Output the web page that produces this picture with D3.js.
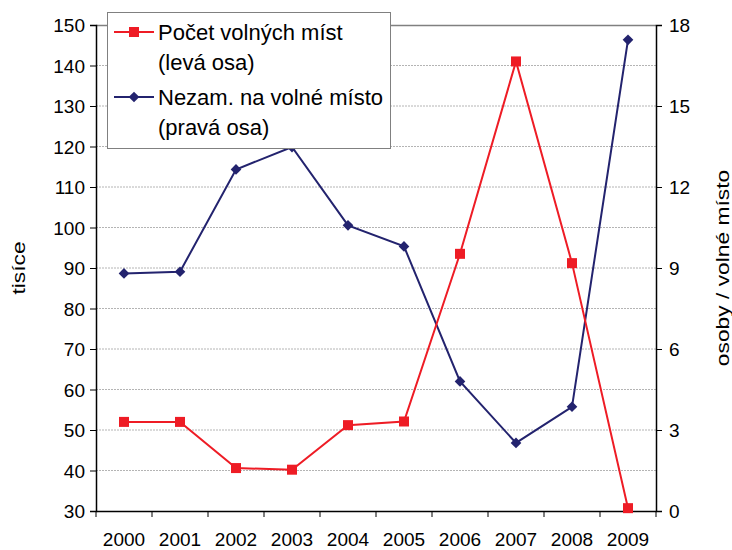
<!DOCTYPE html>
<html>
<head>
<meta charset="utf-8">
<script src="https://cdn.jsdelivr.net/npm/d3@7"></script>
<style>
  body { margin: 0; background: #fff; }
  text { font-family: "Liberation Sans", Arial, sans-serif; fill: #000; }
</style>
</head>
<body>
<div id="chart"></div>
<script>
// data
var years = ["2000","2001","2002","2003","2004","2005","2006","2007","2008","2009"];
var volnaMista = [52, 52, 40.6, 40.2, 51.2, 52.1, 93.5, 141, 91.2, 30.7];   // tisíce, left axis
var nezamNaMisto = [8.8, 8.86, 12.65, 13.48, 10.58, 9.8, 4.8, 2.52, 3.86, 17.45]; // right axis
var leftTicks = [30, 40, 50, 60, 70, 80, 90, 100, 110, 120, 130, 140, 150];
var rightTicks = [0, 3, 6, 9, 12, 15, 18];

var W = 732, H = 550;
var m = {top: 25, right: 76, bottom: 39, left: 96};
var pw = W - m.left - m.right, ph = H - m.top - m.bottom;

var red = "#ee1c25", navy = "#23236e";

var svg = d3.select("#chart").append("svg")
  .attr("width", W).attr("height", H);
var g = svg.append("g").attr("transform", "translate(" + m.left + "," + m.top + ")");

var x = d3.scaleBand().domain(years).range([0, pw]);
var yL = d3.scaleLinear().domain([30, 150]).range([ph, 0]);
var yR = d3.scaleLinear().domain([0, 18]).range([ph, 0]);

// gridlines
g.selectAll(".grid").data(leftTicks.slice(1, -1)).enter().append("line")
  .attr("x1", 0).attr("x2", pw)
  .attr("y1", function(d) { return yL(d); }).attr("y2", function(d) { return yL(d); })
  .style("stroke", "#b4b4b4").style("stroke-width", 1).style("stroke-dasharray", "2,1");

// top border
g.append("line").attr("x1", 0).attr("x2", pw).attr("y1", 0.5).attr("y2", 0.5)
  .style("stroke", "#808080").style("stroke-width", 1.5);

// axes
var axL = g.append("g").call(d3.axisLeft(yL).tickValues(leftTicks).tickSize(6).tickPadding(5).tickSizeOuter(6));
var axR = g.append("g").attr("transform", "translate(" + pw + ",0)")
  .call(d3.axisRight(yR).tickValues(rightTicks).tickSize(6).tickPadding(7).tickSizeOuter(6));
var axB = g.append("g").attr("transform", "translate(0," + ph + ")")
  .call(d3.axisBottom(x).tickSize(0).tickPadding(22));

[axL, axR, axB].forEach(function(a) {
  a.selectAll("text").style("font-size", "19px").style("font-family", "Liberation Sans, Arial, sans-serif");
  a.select(".domain").style("stroke", "#000").style("stroke-width", 1.5);
  a.selectAll(".tick line").style("stroke", "#000");
});
axL.selectAll("text").attr("dy", "0.36em");
axR.selectAll("text").attr("dy", "0.36em");

// x category boundary ticks
var bounds = years.map(function(d) { return x(d); }).concat([pw]);
g.selectAll(".xtick").data(bounds).enter().append("line")
  .attr("x1", function(d) { return d; }).attr("x2", function(d) { return d; })
  .attr("y1", ph).attr("y2", ph + 6)
  .style("stroke", "#000");

// axis titles
svg.append("text")
  .attr("transform", "translate(25," + (m.top + ph / 2) + ") rotate(-90) scale(1.2,1)")
  .attr("text-anchor", "middle").style("font-size", "19px").text("tisíce");
svg.append("text")
  .attr("transform", "translate(729," + (m.top + ph / 2) + ") rotate(-90) scale(1.2,1)")
  .attr("text-anchor", "middle").style("font-size", "19px").text("osoby / volné místo");

var cx = function(i) { return x(years[i]) + x.bandwidth() / 2; };

// navy series
var lineR = d3.line().x(function(d, i) { return cx(i); }).y(function(d) { return yR(d); });
g.append("path").datum(nezamNaMisto).attr("d", lineR)
  .style("fill", "none").style("stroke", navy).style("stroke-width", 2);
var diamond = d3.symbol().type(d3.symbolDiamond2).size(60);
g.selectAll(".dm").data(nezamNaMisto).enter().append("path")
  .attr("d", diamond)
  .attr("transform", function(d, i) { return "translate(" + cx(i) + "," + yR(d) + ") scale(1.1,1.1)"; })
  .style("fill", navy);

// red series
var lineL = d3.line().x(function(d, i) { return cx(i); }).y(function(d) { return yL(d); });
g.append("path").datum(volnaMista).attr("d", lineL)
  .style("fill", "none").style("stroke", red).style("stroke-width", 2);
g.selectAll(".sq").data(volnaMista).enter().append("rect")
  .attr("x", function(d, i) { return cx(i) - 5; })
  .attr("y", function(d) { return yL(d) - 5; })
  .attr("width", 10).attr("height", 10).style("fill", red);

// legend
var lg = svg.append("g").attr("transform", "translate(107,12)");
lg.append("rect").attr("x", 0.5).attr("y", 0.5).attr("width", 283).attr("height", 136)
  .style("fill", "#fff").style("stroke", "#808080").style("stroke-width", 1);
lg.append("line").attr("x1", 7).attr("x2", 47).attr("y1", 20).attr("y2", 20)
  .style("stroke", red).style("stroke-width", 2);
lg.append("rect").attr("x", 22).attr("y", 15).attr("width", 10).attr("height", 10).style("fill", red);
lg.append("line").attr("x1", 7).attr("x2", 47).attr("y1", 85).attr("y2", 85)
  .style("stroke", navy).style("stroke-width", 2);
lg.append("path").attr("d", diamond).attr("transform", "translate(27,85) scale(1.1,1.1)").style("fill", navy);
var legendLines = [
  ["Počet volných míst", 28], ["(levá osa)", 58],
  ["Nezam. na volné místo", 93], ["(pravá osa)", 123]
];
lg.selectAll(".lt").data(legendLines).enter().append("text")
  .attr("x", 51).attr("y", function(d) { return d[1]; })
  .style("font-size", "22px").text(function(d) { return d[0]; });
</script>
</body>
</html>
